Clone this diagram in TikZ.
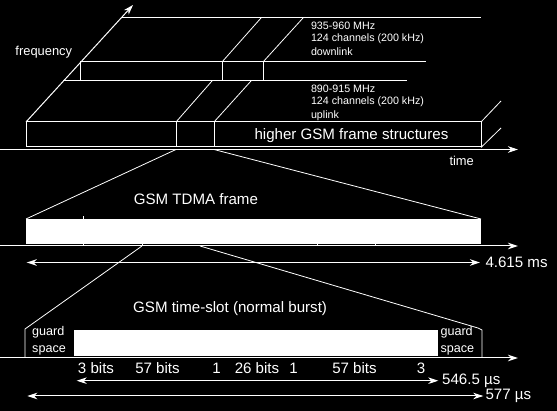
\documentclass[tikz,border=0pt]{standalone}
\usepackage{fontspec}
\setmainfont{Liberation Sans}
\usetikzlibrary{
    positioning,
    arrows.meta,
    calc
}
\definecolor{gsmWhite}{RGB}{255, 255, 255}
\definecolor{gsmBlack}{RGB}{0, 0, 0}

\tikzset{
    big/.style={text=gsmWhite, inner sep=0pt, anchor=base west, font=\fontsize{15.1}{18}\selectfont},
    small/.style={big, font=\fontsize{10.7}{13}\selectfont},
    axislbl/.style={big, font=\fontsize{12.9}{15}\selectfont},
    guardlbl/.style={big, font=\fontsize{12.6}{15}\selectfont},
    bitlbl/.style={big, anchor=base},
    thin/.style={line width=0.8pt},
    span/.style={<->, line width=1pt}
}

\begin{document}
\begin{tikzpicture}[x=1pt, y=-1pt, >={Stealth[length=10pt, width=6.5pt, inset=3pt]}, line width=1pt, draw=gsmWhite]
        \fill[gsmBlack] (0,0) rectangle (557,411);
        \useasboundingbox (0,0) rectangle (557,411);

        \coordinate (F0) at (26, 122);
        \coordinate (F1) at (133, 5);
        \coordinate (T0) at (0, 149.5);
        \coordinate (T1) at (518, 149.5);

        % Frequency and time axes
        \draw[->] (F0) -- (F1);
        \draw[->] (T0) -- (T1);
        \node[axislbl] (freq) at (15, 56) {frequency};
        \node[axislbl] (time) at (449, 165.5) {time};

        % Downlink band
        \draw (122, 18) -- (481, 18);
        \draw (80, 62) -- (426, 62);
        \draw (63, 81) -- (407, 81);
        \draw (80, 62) -- (80, 81);
        \draw (222, 62) -- (222, 81);
        \draw (263, 62) -- (263, 81);
        \draw[thin] (222, 62) -- (261, 18);
        \draw[thin] (263, 62) -- (303, 18);
        \node[small] (dlMHz) at (310.5, 29.3) {935-960 MHz};
        \node[small] (dlChan) at (310.5, 41.8) {124 channels (200 kHz)};
        \node[small] (dlName) at (310.5, 56) {downlink};

        % Uplink band
        \draw[thin] (176, 122) -- (212, 81);
        \draw[thin] (214, 122) -- (251, 81);
        \draw (26, 122) rectangle (481, 147);
        \draw (176, 122) -- (176, 147);
        \draw (214, 122) -- (214, 147);
        \draw[thin] (481, 122) -- (501, 101);
        \draw[thin] (481, 147.5) -- (501, 128);
        \node[small] (ulMHz) at (310.5, 92.6) {890-915 MHz};
        \node[small] (ulChan) at (310.5, 105) {124 channels (200 kHz)};
        \node[small] (ulName) at (310.5, 118.5) {uplink};
        \node[big] (higher) at (254, 139.5) {higher GSM frame structures};

        % TDMA frame
        \coordinate (A0) at (176, 149.5);
        \coordinate (A1) at (214, 149.5);
        \coordinate (B0) at (26, 219);
        \coordinate (B1) at (481, 219);
        \draw[thin] (A0) -- (B0);
        \draw[thin] (A1) -- (B1);
        \node[big] (tdma) at (133.3, 204.3) {GSM TDMA frame};
        \fill[gsmWhite] (B0) rectangle (481, 244.3);
        \draw[->] (0, 246) -- (518, 246);
        \foreach \x in {83, 142, 317, 375}
            \draw[thin] (\x, 244) -- (\x, 246);
        \draw[thin] (83, 216.5) -- (83, 219);
        \coordinate (C0) at (26.7, 262.5);
        \coordinate (C1) at (480, 262.5);
        \draw[span, line width=1.6pt] (C0) -- (C1);
        \node[big] (frameLen) at (485, 267.3) {4.615 ms};

        % Time-slot
        \coordinate (S0) at (142, 246);
        \coordinate (S1) at (200, 246);
        \coordinate (G0) at (25, 329);
        \coordinate (G1) at (478, 328);
        \draw[thin] (S0) -- (G0) -- (25, 358);
        \draw[thin] (S1) -- (G1) -- (482, 330) -- (482, 358);
        \node[big] (slot) at (132.7, 312.5) {GSM time-slot (normal burst)};
        \fill[gsmWhite] (74, 330) rectangle (438, 356.4);
        \draw[->] (0, 358) -- (518, 358);
        \node[guardlbl] (guardL) at (31.7, 336) {guard};
        \node[guardlbl] (spaceL) at (31.7, 352.7) {space};
        \node[guardlbl] (guardR) at (440, 336) {guard};
        \node[guardlbl] (spaceR) at (440, 352.7) {space};

        % Burst fields
        \node[bitlbl] (tailA) at (96, 373.3) {3 bits};
        \node[bitlbl] (dataA) at (157.5, 373.3) {57 bits};
        \node[bitlbl] (flagA) at (216.5, 373.3) {1};
        \node[bitlbl] (train) at (257, 373.3) {26 bits};
        \node[bitlbl] (flagB) at (293.5, 373.3) {1};
        \node[bitlbl] (dataB) at (354.5, 373.3) {57 bits};
        \node[bitlbl] (tailB) at (421, 373.3) {3};

        % Durations
        \coordinate (D0) at (76.7, 380.7);
        \coordinate (D1) at (438.3, 380.7);
        \coordinate (E0) at (27.3, 396);
        \coordinate (E1) at (483.3, 396);
        \draw[span] (D0) -- (D1);
        \draw[span] (E0) -- (E1);
        \node[big] (burstLen) at (441.7, 384.3) {546.5 µs};
        \node[big] (slotLen) at (485, 400) {577 µs};
    \end{tikzpicture}
\end{document}
